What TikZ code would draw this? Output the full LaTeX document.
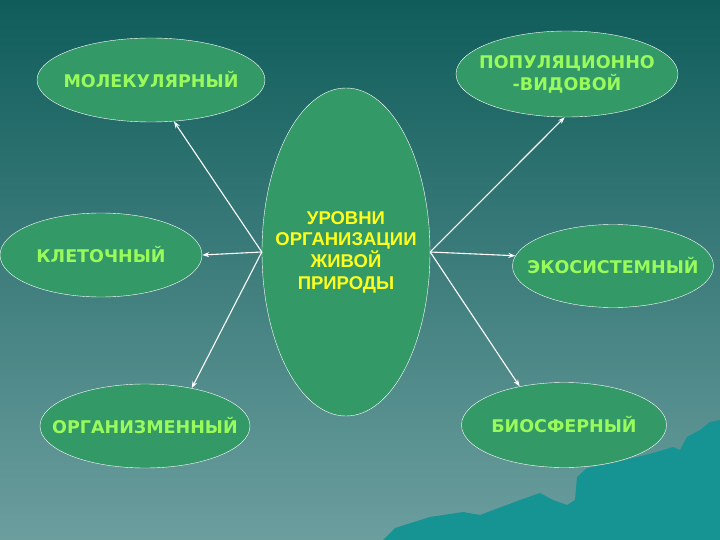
\documentclass[tikz,border=0pt]{standalone}
\usepackage{fontspec}
\setmainfont{DejaVu Sans}
\newfontfamily\levelfont{DejaVu Sans}
\newfontfamily\titlefont{Liberation Sans}
\usetikzlibrary{shapes.geometric,arrows.meta}

\definecolor{bgtop}{RGB}{15,93,91}
\definecolor{bgbottom}{RGB}{108,158,158}
\definecolor{hill}{RGB}{22,148,148}
\definecolor{leaf}{RGB}{51,153,102}
\definecolor{lettering}{RGB}{153,250,92}
\definecolor{titletext}{RGB}{255,255,30}

\begin{document}
\begin{tikzpicture}[x=1pt, y=-1pt,
  level/.style={ellipse, draw=white, fill=leaf, inner sep=-40pt, text=lettering,
    font=\levelfont\bfseries\fontsize{17.5}{22}\selectfont, align=center},
  centre/.style={level, text=titletext,
    font=\titlefont\bfseries\fontsize{18.5}{21.7}\selectfont},
  link/.style={->, draw=white, line width=1.1pt},
  >={Stealth[length=7pt, width=5pt]}]
  % Background
  \shade[top color=bgtop, bottom color=bgbottom] (0,0) rectangle (720,540);
  \useasboundingbox (0,0) rectangle (720,540);

  % Hills in the corner
  \fill[hill] (383,540) -- (395,528) -- (430,517) -- (463,512) -- (480,515)
    -- (520,500) -- (540,493) -- (553,500) -- (567,505) -- (575,500)
    -- (577,477) -- (587,468) -- (613,463) -- (653,453) -- (673,447)
    -- (680,450) -- (687,437) -- (700,430) -- (710,422) -- (720,420)
    -- (720,540) -- cycle;

  % Central oval
  \node[centre, minimum width=168, minimum height=328] (lvl) at (346,252)
    {УРОВНИ\\ОРГАНИЗАЦИИ\\ЖИВОЙ\\ПРИРОДЫ};

  % Levels
  \node[level, minimum width=228, minimum height=84] (mol) at (151,80) {МОЛЕКУЛЯРНЫЙ};
  \node[level, minimum width=202, minimum height=84] (cell) at (101,255) {КЛЕТОЧНЫЙ};
  \node[level, minimum width=210, minimum height=84] (org) at (145,426) {ОРГАНИЗМЕННЫЙ};
  \node[level, minimum width=222, minimum height=86] (pop) at (567,74) {ПОПУЛЯЦИОННО\\-ВИДОВОЙ};
  \node[level, minimum width=201, minimum height=83] (eco) at (613,266) {ЭКОСИСТЕМНЫЙ};
  \node[level, minimum width=205, minimum height=85] (bio) at (564,425) {БИОСФЕРНЫЙ};

  % Links
  \draw[link] (lvl.west) -- (mol.-61);
  \draw[link] (lvl.west) -- (cell.east);
  \draw[link] (lvl.west) -- (org.39);
  \draw[link] (lvl.east) -- (pop.-93);
  \draw[link] (lvl.east) -- (eco.174);
  \draw[link] (lvl.east) -- (bio.139);
\end{tikzpicture}
\end{document}
